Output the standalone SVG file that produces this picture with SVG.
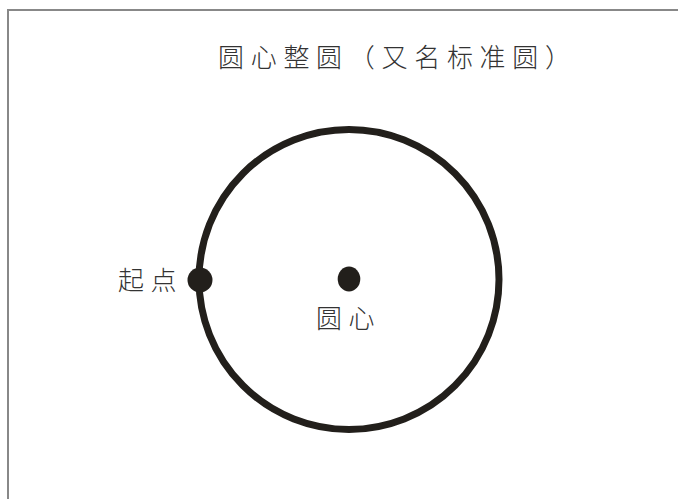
<svg xmlns="http://www.w3.org/2000/svg" width="678" height="499" viewBox="0 0 678 499">
<style>
.t{font-family:"Noto Sans CJK SC","Noto Sans",sans-serif;font-size:26px;font-weight:300;fill:#333;letter-spacing:6.5px}
.title{letter-spacing:6.7px}
.dot{fill:#221f1b}
</style>
<rect x="0" y="0" width="678" height="499" fill="#fff"/>
<path d="M8 499 V10 H678" fill="none" stroke="#888" stroke-width="2"/>
<text class="t title" x="218" y="67">圆心整圆（又名标准圆）</text>
<g id="circle"><circle cx="349" cy="279.5" r="150" fill="none" stroke="#221f1b" stroke-width="7"/></g>
<g id="start"><circle class="dot" cx="200" cy="280" r="12.5"/><text class="t" x="118" y="290">起点</text></g>
<g id="center"><ellipse class="dot" cx="349" cy="279" rx="11.3" ry="12.5"/><text class="t" x="316" y="328">圆心</text></g>
<g id="connectors"></g>
</svg>
